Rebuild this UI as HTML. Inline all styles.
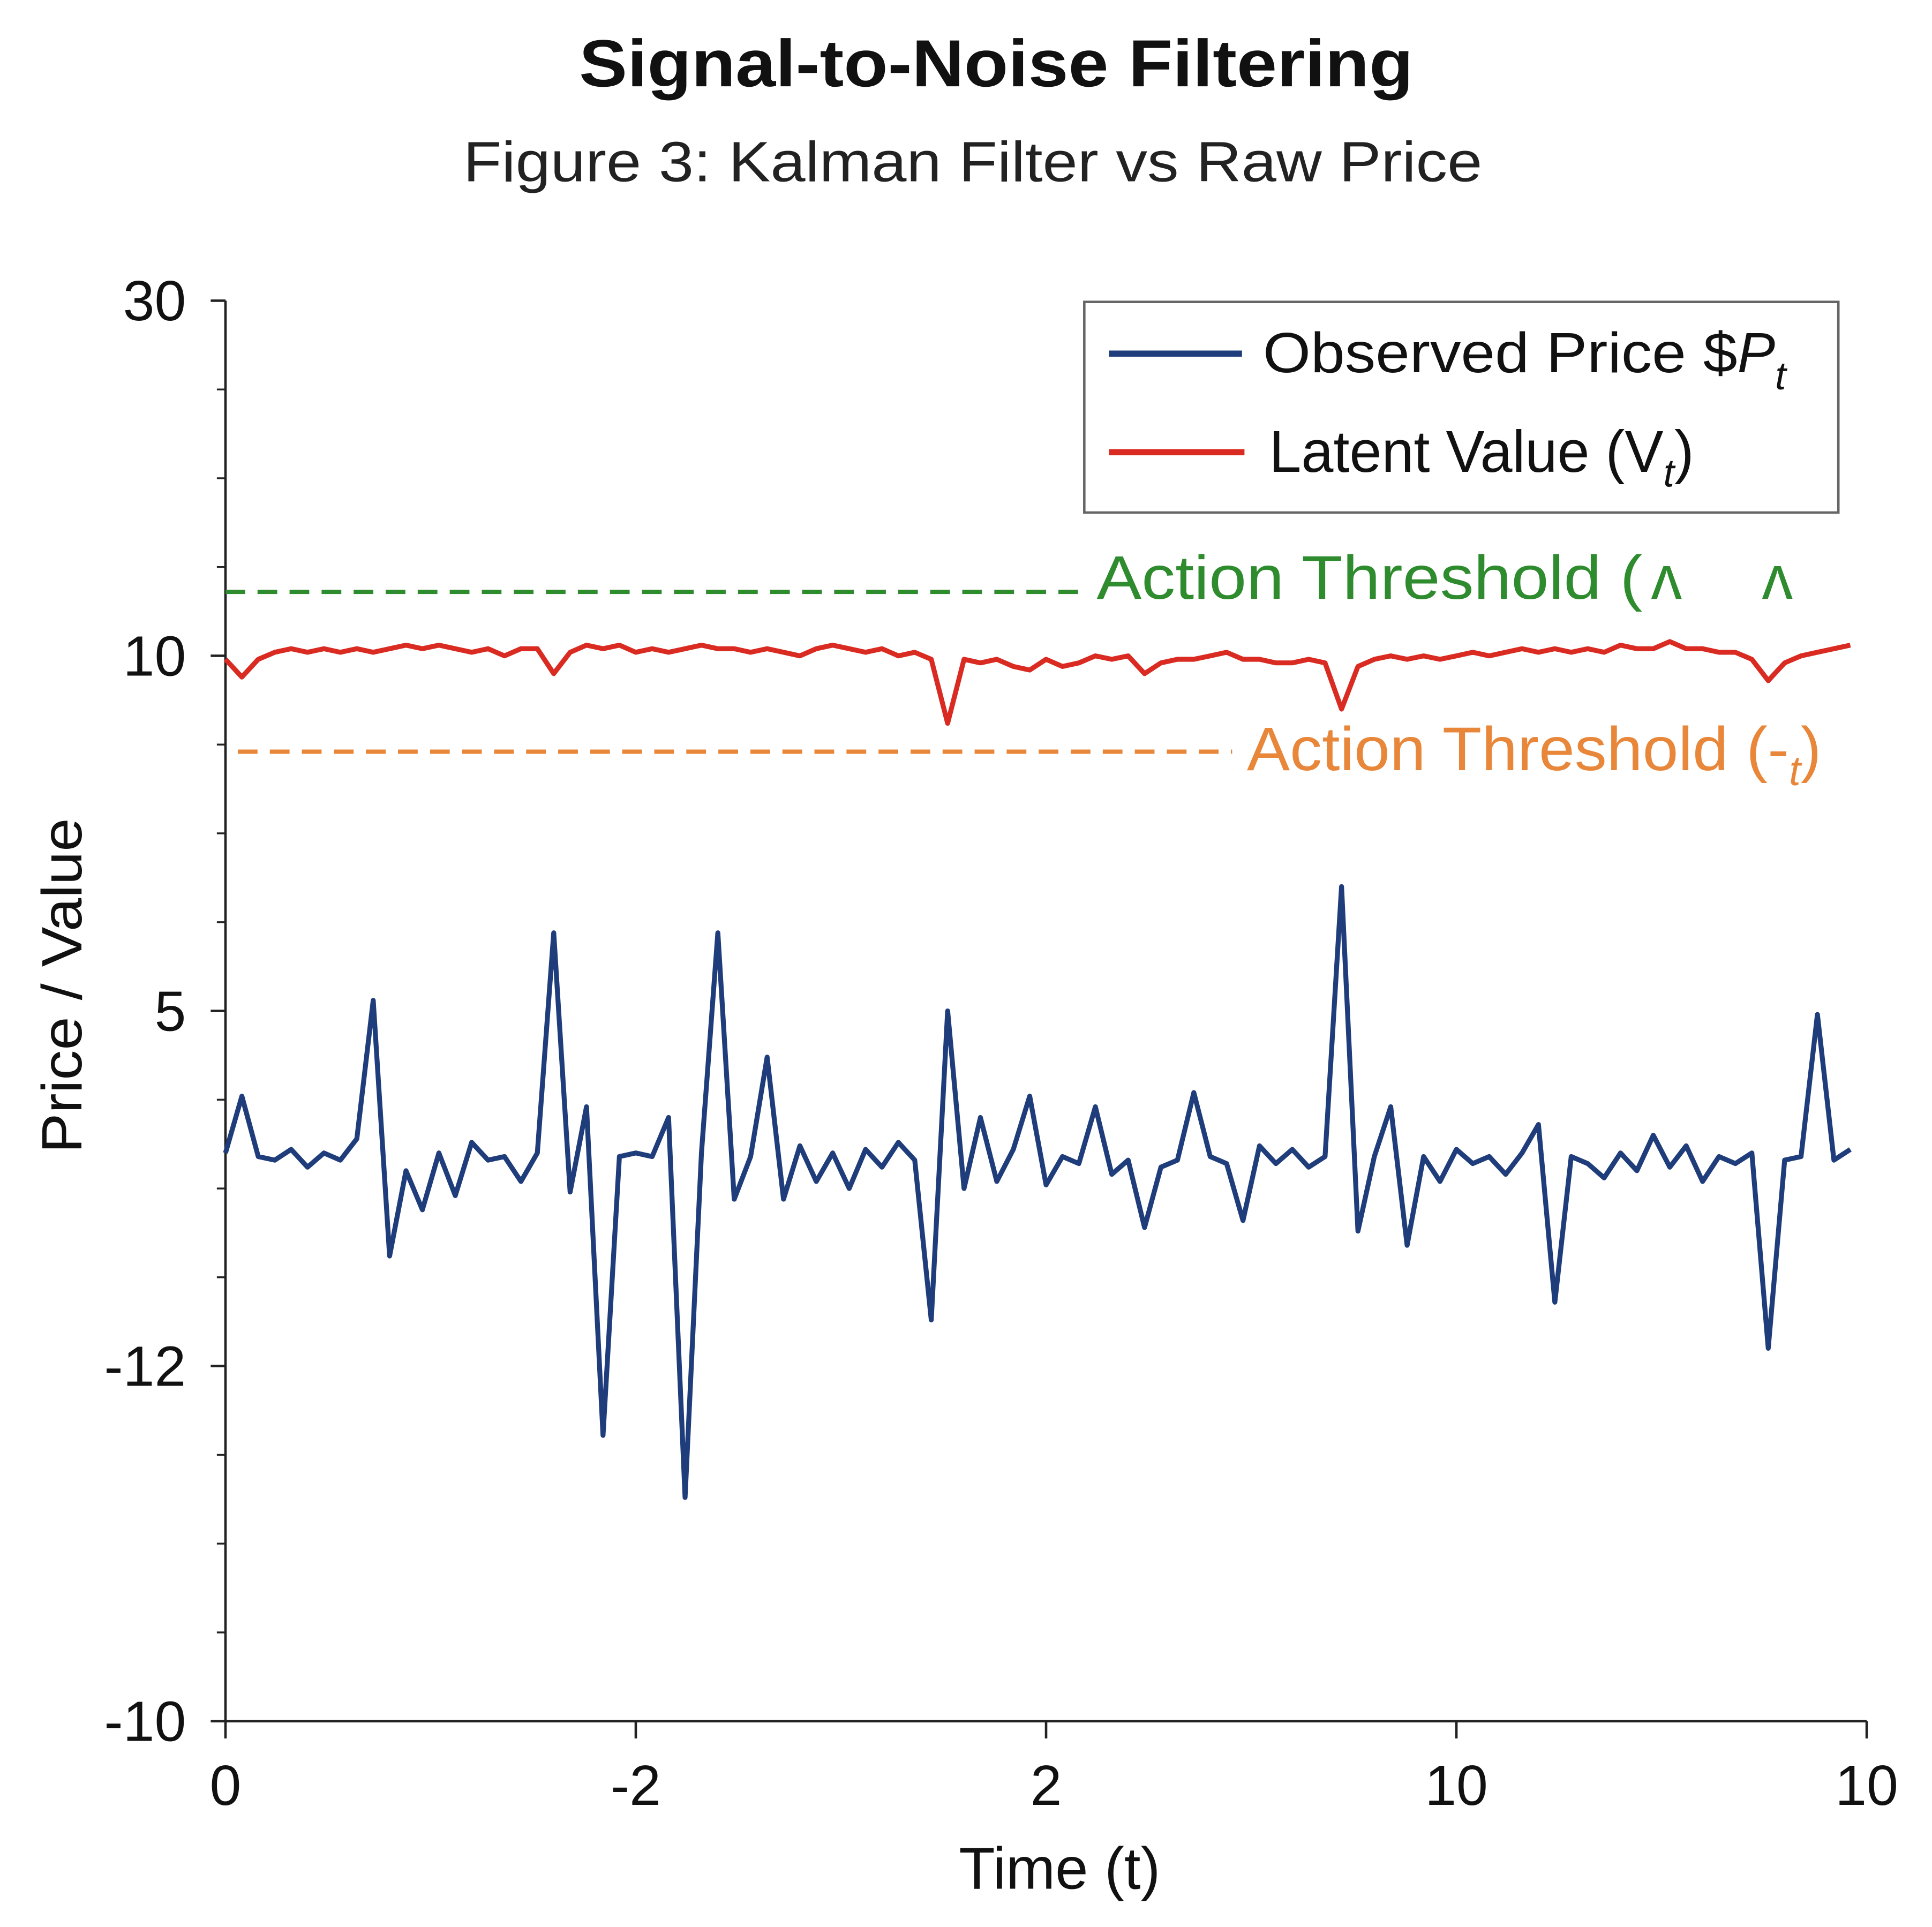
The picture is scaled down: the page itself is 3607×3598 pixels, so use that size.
<!DOCTYPE html>
<html><head><meta charset="utf-8"><style>
html,body{margin:0;padding:0;background:#fff}
svg{display:block}
text{font-family:"Liberation Sans","DejaVu Sans",sans-serif}
</style></head><body>
<svg id="chart" width="3607" height="3598" viewBox="0 0 1568 1564" xmlns="http://www.w3.org/2000/svg">
<rect width="1568" height="1564" fill="#fff"/>
<text x="470" y="70" textLength="677" lengthAdjust="spacingAndGlyphs" font-size="54" font-weight="bold" fill="#111">Signal-to-Noise Filtering</text>
<text x="376" y="147" textLength="827" lengthAdjust="spacingAndGlyphs" font-size="46" fill="#222">Figure 3: Kalman Filter vs Raw Price</text>
<g id="axes"></g>
<g id="marks"></g>
<g>
<rect x="880" y="245" width="612" height="171" fill="#fff" stroke="#666" stroke-width="2"/>
<line x1="900" y1="287" x2="1008" y2="287" stroke="#1f3d7a" stroke-width="5"/>
<text x="1025" y="302" font-size="46" fill="#111"><tspan textLength="385" lengthAdjust="spacingAndGlyphs">Observed Price $</tspan><tspan font-style="italic">P</tspan><tspan font-size="32" dy="14" font-style="italic">t</tspan></text>
<line x1="900" y1="367" x2="1010" y2="367" stroke="#d92b22" stroke-width="5"/>
<text x="1030" y="383" font-size="48" fill="#111"><tspan textLength="320" lengthAdjust="spacingAndGlyphs">Latent Value (V</tspan><tspan font-size="32" dy="12" font-style="italic">t</tspan><tspan dy="-12">)</tspan></text>
</g>
<text y="486" font-size="50" fill="#2e8b2e"><tspan x="890" textLength="443" lengthAdjust="spacingAndGlyphs">Action Threshold (</tspan><tspan x="1340">ᴧ</tspan><tspan x="1430">ᴧ</tspan></text>
<text y="625" font-size="50" fill="#e8863a"><tspan x="1012" textLength="440" lengthAdjust="spacingAndGlyphs">Action Threshold (-</tspan><tspan font-size="34" dy="12" font-style="italic">t</tspan><tspan dy="-12">)</tspan></text>
<text x="860" y="1533" text-anchor="middle" font-size="48" fill="#111">Time (t)</text>
<text transform="translate(66,800) rotate(-90)" text-anchor="middle" textLength="272" lengthAdjust="spacingAndGlyphs" font-size="46" fill="#111">Price / Value</text>
</svg>
<script>
const xTickValues = [0, 2.5, 5, 7.5, 10];
const xTickLabels = ["0", "-2", "2", "10", "10"];
const yTickValues = [-10, 0, 10, 20, 30];
const yTickLabels = ["-10", "-12", "5", "10", "30"];
const observedPrice = [6.0,7.6,5.9,5.8,6.1,5.6,6.0,5.8,6.4,10.3,3.1,5.5,4.4,6.0,4.8,6.3,5.8,5.9,5.2,6.0,
12.2,4.9,7.3,-1.95,5.9,6.0,5.9,7.0,-3.7,6.0,12.2,4.7,5.9,8.7,4.7,6.2,5.2,6.0,5.0,6.1,
5.6,6.3,5.8,1.3,10.0,5.0,7.0,5.2,6.1,7.6,5.1,5.9,5.7,7.3,5.4,5.8,3.9,5.6,5.8,7.7,
5.9,5.7,4.1,6.2,5.7,6.1,5.6,5.9,13.5,3.8,5.9,7.3,3.4,5.9,5.2,6.1,5.7,5.9,5.4,6.0,
6.8,1.8,5.9,5.7,5.3,6.0,5.5,6.5,5.6,6.2,5.2,5.9,5.7,6.0,0.5,5.8,5.9,9.9,5.8,6.1];
const latentValue = [19.9,19.4,19.9,20.1,20.2,20.1,20.2,20.1,20.2,20.1,20.2,20.3,20.2,20.3,20.2,20.1,20.2,20.0,20.2,20.2,
19.5,20.1,20.3,20.2,20.3,20.1,20.2,20.1,20.2,20.3,20.2,20.2,20.1,20.2,20.1,20.0,20.2,20.3,20.2,20.1,
20.2,20.0,20.1,19.9,18.1,19.9,19.8,19.9,19.7,19.6,19.9,19.7,19.8,20.0,19.9,20.0,19.5,19.8,19.9,19.9,
20.0,20.1,19.9,19.9,19.8,19.8,19.9,19.8,18.5,19.7,19.9,20.0,19.9,20.0,19.9,20.0,20.1,20.0,20.1,20.2,
20.1,20.2,20.1,20.2,20.1,20.3,20.2,20.2,20.4,20.2,20.2,20.1,20.1,19.9,19.3,19.8,20.0,20.1,20.2,20.3];
const timeStep = [0.1];
const upperThreshold = [21.8];
const lowerThreshold = [17.3];

const NS = "http://www.w3.org/2000/svg";
const L = 183, R = 1515, T = 244, B = 1397;
function xScale(v){ return L + (v - 0) / 10 * (R - L); }
function yScale(v){ return B - (v + 10) / 40 * (B - T); }
function mk(tag, attrs, parent){
  const e = document.createElementNS(NS, tag);
  for (const k in attrs) e.setAttribute(k, attrs[k]);
  parent.appendChild(e); return e;
}
const axes = document.getElementById('axes');
const marks = document.getElementById('marks');

let el = mk('line', {x1:L, y1:T, x2:L, y2:B, stroke:'#222', 'stroke-width':2}, axes);


el = mk('line', {x1:L, y1:B, x2:R, y2:B, stroke:'#222', 'stroke-width':2}, axes);



for (let i = 0; i < yTickValues.length; i++) {
  const y = yScale(yTickValues[i]);
  el = mk('line', {x1:L-12, y1:y, x2:L, y2:y, stroke:'#222', 'stroke-width':2}, axes);
  
  
  el = mk('text', {x:L-32, y:y+16, 'text-anchor':'end', 'font-size':46, fill:'#111'}, axes);
  el.textContent = yTickLabels[i];
  
  
  if (i < yTickValues.length - 1) {
    for (let m = 1; m < 4; m++) {
      const ym = yScale(yTickValues[i] + m * 2.5);
      el = mk('line', {x1:L-7, y1:ym, x2:L, y2:ym, stroke:'#222', 'stroke-width':1.5}, axes);
      
      
    }
  }
}
for (let i = 0; i < xTickValues.length; i++) {
  const x = xScale(xTickValues[i]);
  el = mk('line', {x1:x, y1:B, x2:x, y2:B+14, stroke:'#222', 'stroke-width':2}, axes);
  
  
  el = mk('text', {x:x, y:B+68, 'text-anchor':'middle', 'font-size':46, fill:'#111'}, axes);
  el.textContent = xTickLabels[i];
  
  
}

el = mk('line', {x1:L, y1:yScale(upperThreshold[0]), x2:875, y2:yScale(upperThreshold[0]), stroke:'#2e8b2e', 'stroke-width':3.5, 'stroke-dasharray':'16 10'}, marks);


el = mk('line', {x1:193, y1:yScale(lowerThreshold[0]), x2:1000, y2:yScale(lowerThreshold[0]), stroke:'#e8863a', 'stroke-width':3.5, 'stroke-dasharray':'16 10'}, marks);



function pathFor(arr){
  return arr.map((v, i) => (i ? 'L' : 'M') + xScale(i * timeStep[0]).toFixed(1) + ',' + yScale(v).toFixed(1)).join(' ');
}
el = mk('path', {d:pathFor(latentValue), fill:'none', stroke:'#d92b22', 'stroke-width':4, 'stroke-linejoin':'round'}, marks);


el = mk('path', {d:pathFor(observedPrice), fill:'none', stroke:'#1f3d7a', 'stroke-width':4, 'stroke-linejoin':'round'}, marks);


</script>
</body></html>
